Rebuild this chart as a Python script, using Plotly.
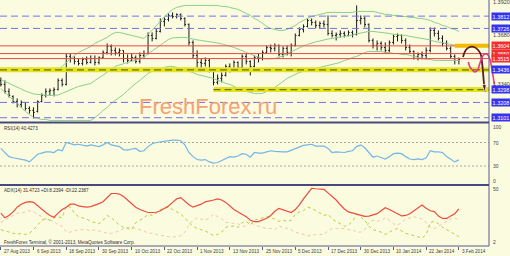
import plotly.graph_objects as go

W, H = 510, 256
BG = "#FBFBE0"

# ---------------- data ----------------
DATE_LABELS = ["27 Aug 2013", "6 Sep 2013", "18 Sep 2013", "30 Sep 2013", "10 Oct 2013",
               "22 Oct 2013", "1 Nov 2013", "13 Nov 2013", "25 Nov 2013", "5 Dec 2013",
               "17 Dec 2013", "30 Dec 2013", "10 Jan 2014", "22 Jan 2014", "3 Feb 2014"]
DATE_BARS = [0, 8, 16, 24, 32, 40, 48, 56, 64, 72, 80, 88, 96, 104, 112]

OPEN = [1.3362, 1.3334, 1.3285, 1.3250, 1.3215, 1.3194, 1.3208, 1.3166, 1.3152, 1.3145,
        1.3215, 1.3257, 1.3285, 1.3292, 1.3299, 1.3362, 1.3334, 1.3530, 1.3516, 1.3495,
        1.3481, 1.3509, 1.3488, 1.3516, 1.3488, 1.3523, 1.3558, 1.3600, 1.3572, 1.3558,
        1.3572, 1.3516, 1.3502, 1.3523, 1.3495, 1.3537, 1.3551, 1.3677, 1.3656, 1.3705,
        1.3775, 1.3789, 1.3817, 1.3810, 1.3824, 1.3796, 1.3754, 1.3628, 1.3537, 1.3488,
        1.3481, 1.3502, 1.3432, 1.3348, 1.3376, 1.3397, 1.3460, 1.3446, 1.3488, 1.3453,
        1.3530, 1.3495, 1.3460, 1.3523, 1.3516, 1.3558, 1.3593, 1.3586, 1.3607, 1.3544,
        1.3586, 1.3558, 1.3607, 1.3677, 1.3719, 1.3740, 1.3782, 1.3768, 1.3747, 1.3761,
        1.3754, 1.3691, 1.3677, 1.3684, 1.3691, 1.3677, 1.3698, 1.3684, 1.3782, 1.3796,
        1.3754, 1.3642, 1.3607, 1.3621, 1.3593, 1.3572, 1.3628, 1.3670, 1.3677, 1.3642,
        1.3593, 1.3565, 1.3530, 1.3544, 1.3537, 1.3572, 1.3712, 1.3691, 1.3656, 1.3621,
        1.3586, 1.3530, 1.3502]
HIGH = [1.3383, 1.3362, 1.3306, 1.3257, 1.3236, 1.3222, 1.3208, 1.3180, 1.3173, 1.3222,
        1.3271, 1.3306, 1.3306, 1.3313, 1.3376, 1.3376, 1.3551, 1.3551, 1.3530, 1.3516,
        1.3523, 1.3530, 1.3537, 1.3537, 1.3530, 1.3572, 1.3621, 1.3614, 1.3593, 1.3586,
        1.3572, 1.3544, 1.3551, 1.3537, 1.3558, 1.3572, 1.3698, 1.3698, 1.3726, 1.3796,
        1.3803, 1.3831, 1.3838, 1.3831, 1.3831, 1.3803, 1.3761, 1.3642, 1.3572, 1.3516,
        1.3523, 1.3516, 1.3439, 1.3404, 1.3418, 1.3474, 1.3481, 1.3502, 1.3495, 1.3544,
        1.3551, 1.3502, 1.3537, 1.3551, 1.3572, 1.3607, 1.3614, 1.3621, 1.3614, 1.3600,
        1.3607, 1.3621, 1.3691, 1.3733, 1.3754, 1.3796, 1.3796, 1.3782, 1.3775, 1.3782,
        1.3817, 1.3712, 1.3698, 1.3712, 1.3705, 1.3712, 1.3712, 1.3887, 1.3817, 1.3810,
        1.3761, 1.3656, 1.3642, 1.3635, 1.3628, 1.3642, 1.3684, 1.3691, 1.3684, 1.3656,
        1.3614, 1.3572, 1.3558, 1.3565, 1.3593, 1.3733, 1.3733, 1.3712, 1.3677, 1.3642,
        1.3600, 1.3544, 1.3523]
LOW = [1.3320, 1.3271, 1.3243, 1.3201, 1.3173, 1.3173, 1.3152, 1.3131, 1.3096, 1.3138,
       1.3208, 1.3243, 1.3257, 1.3250, 1.3292, 1.3320, 1.3327, 1.3488, 1.3474, 1.3467,
       1.3467, 1.3474, 1.3481, 1.3467, 1.3474, 1.3516, 1.3544, 1.3537, 1.3537, 1.3530,
       1.3488, 1.3481, 1.3495, 1.3481, 1.3481, 1.3516, 1.3544, 1.3635, 1.3649, 1.3698,
       1.3740, 1.3775, 1.3796, 1.3796, 1.3782, 1.3740, 1.3607, 1.3516, 1.3453, 1.3446,
       1.3460, 1.3418, 1.3327, 1.3334, 1.3348, 1.3390, 1.3418, 1.3432, 1.3425, 1.3446,
       1.3474, 1.3397, 1.3453, 1.3488, 1.3502, 1.3551, 1.3558, 1.3565, 1.3530, 1.3523,
       1.3537, 1.3530, 1.3600, 1.3670, 1.3698, 1.3733, 1.3747, 1.3726, 1.3726, 1.3733,
       1.3677, 1.3663, 1.3642, 1.3663, 1.3663, 1.3670, 1.3663, 1.3677, 1.3754, 1.3733,
       1.3628, 1.3586, 1.3572, 1.3572, 1.3551, 1.3558, 1.3614, 1.3635, 1.3621, 1.3572,
       1.3551, 1.3509, 1.3502, 1.3509, 1.3516, 1.3558, 1.3670, 1.3642, 1.3600, 1.3572,
       1.3516, 1.3474, 1.3474]
CLOSE = [1.3334, 1.3285, 1.3257, 1.3215, 1.3194, 1.3208, 1.3166, 1.3152, 1.3138, 1.3215,
         1.3257, 1.3285, 1.3292, 1.3299, 1.3362, 1.3334, 1.3530, 1.3516, 1.3495, 1.3481,
         1.3509, 1.3488, 1.3516, 1.3488, 1.3523, 1.3558, 1.3600, 1.3572, 1.3558, 1.3572,
         1.3516, 1.3502, 1.3523, 1.3495, 1.3537, 1.3551, 1.3677, 1.3656, 1.3705, 1.3775,
         1.3789, 1.3817, 1.3810, 1.3824, 1.3796, 1.3754, 1.3628, 1.3537, 1.3488, 1.3481,
         1.3502, 1.3432, 1.3348, 1.3376, 1.3397, 1.3460, 1.3446, 1.3488, 1.3453, 1.3530,
         1.3495, 1.3460, 1.3523, 1.3516, 1.3558, 1.3593, 1.3586, 1.3607, 1.3544, 1.3586,
         1.3558, 1.3607, 1.3677, 1.3719, 1.3740, 1.3782, 1.3768, 1.3747, 1.3761, 1.3754,
         1.3691, 1.3677, 1.3684, 1.3691, 1.3677, 1.3698, 1.3684, 1.3782, 1.3796, 1.3754,
         1.3642, 1.3607, 1.3621, 1.3593, 1.3572, 1.3628, 1.3670, 1.3677, 1.3642, 1.3593,
         1.3565, 1.3530, 1.3544, 1.3537, 1.3572, 1.3712, 1.3691, 1.3656, 1.3621, 1.3586,
         1.3530, 1.3502, 1.3509]

BB_UPPER = [1.3432] * 14 + [
    1.3439, 1.3460, 1.3488, 1.3516, 1.3537, 1.3558, 1.3572, 1.3586, 1.3600, 1.3621,
    1.3635, 1.3649, 1.3663, 1.3684, 1.3698, 1.3698, 1.3691, 1.3684, 1.3677, 1.3670,
    1.3663, 1.3656, 1.3684, 1.3712, 1.3740, 1.3775, 1.3810, 1.3838, 1.3859, 1.3873,
    1.3880, 1.3887, 1.3887, 1.3887, 1.3887, 1.3887, 1.3887, 1.3887, 1.3887, 1.3887,
    1.3880, 1.3880, 1.3873, 1.3866, 1.3859, 1.3845, 1.3831, 1.3817, 1.3796, 1.3782,
    1.3761, 1.3740, 1.3726, 1.3719, 1.3712, 1.3712, 1.3719, 1.3733, 1.3747, 1.3768,
    1.3782, 1.3796, 1.3810, 1.3817, 1.3824, 1.3831] + [1.3838] * 7 + [1.3845] * 5 + [
    1.3838, 1.3831, 1.3824, 1.3824, 1.3817, 1.3817, 1.3810, 1.3810, 1.3803, 1.3803,
    1.3796, 1.3796, 1.3789, 1.3782, 1.3768, 1.3761, 1.3747, 1.3740, 1.3726, 1.3719,
    1.3705]
BB_MIDDLE = [1.3369, 1.3355, 1.3341, 1.3327, 1.3313, 1.3299, 1.3288, 1.3278, 1.3267, 1.3264,
             1.3260, 1.3260, 1.3257, 1.3257, 1.3260, 1.3271, 1.3285, 1.3299, 1.3309, 1.3320,
             1.3327, 1.3334, 1.3341, 1.3362, 1.3380, 1.3400, 1.3418, 1.3442, 1.3460, 1.3470,
             1.3478, 1.3488, 1.3498, 1.3506, 1.3512, 1.3523, 1.3548, 1.3568, 1.3586, 1.3607,
             1.3632, 1.3649, 1.3660, 1.3663, 1.3663, 1.3663, 1.3656, 1.3652, 1.3646, 1.3642,
             1.3638, 1.3635, 1.3632, 1.3624, 1.3618, 1.3610, 1.3604, 1.3593, 1.3582, 1.3568,
             1.3558, 1.3548, 1.3534, 1.3526, 1.3516, 1.3512, 1.3512, 1.3516, 1.3523, 1.3534,
             1.3548, 1.3562, 1.3576, 1.3593, 1.3604, 1.3614, 1.3624, 1.3632, 1.3638, 1.3646,
             1.3652, 1.3656, 1.3660, 1.3663, 1.3670, 1.3674, 1.3680, 1.3688, 1.3694, 1.3702,
             1.3705, 1.3705, 1.3702, 1.3698, 1.3691, 1.3691, 1.3684, 1.3684, 1.3677, 1.3677,
             1.3670, 1.3666, 1.3660, 1.3656, 1.3649, 1.3646, 1.3635, 1.3632, 1.3624, 1.3621,
             1.3614, 1.3610, 1.3604]
BB_LOWER = [1.3306, 1.3278, 1.3250, 1.3222, 1.3194, 1.3166, 1.3145, 1.3124, 1.3103, 1.3096,
            1.3089, 1.3089] + [1.3082] * 11 + [
    1.3103, 1.3124, 1.3152, 1.3173, 1.3201, 1.3222, 1.3243, 1.3264, 1.3292, 1.3320,
    1.3341, 1.3362, 1.3390, 1.3411, 1.3425, 1.3432, 1.3439, 1.3453, 1.3460, 1.3460,
    1.3453, 1.3446, 1.3439, 1.3425, 1.3418, 1.3404, 1.3397, 1.3390, 1.3383, 1.3376,
    1.3362, 1.3355, 1.3341, 1.3334, 1.3320, 1.3306, 1.3292, 1.3285, 1.3278, 1.3271,
    1.3271, 1.3271, 1.3285, 1.3299, 1.3313, 1.3334, 1.3355, 1.3376, 1.3390, 1.3404,
    1.3418, 1.3425, 1.3432, 1.3439, 1.3446, 1.3453, 1.3460, 1.3467, 1.3474, 1.3481,
    1.3488, 1.3502, 1.3509, 1.3523, 1.3530, 1.3544, 1.3558, 1.3565, 1.3565, 1.3565,
    1.3565, 1.3558, 1.3558, 1.3551, 1.3551, 1.3544, 1.3544, 1.3537, 1.3530, 1.3523,
    1.3516, 1.3509, 1.3509] + [1.3502] * 7

RSI = [60, 53, 46, 44, 43, 42, 40, 37, 44, 50,
       52, 54, 54, 53, 58, 56, 70, 68, 66, 67,
       66, 64, 66, 64, 63, 66, 70, 66, 64, 63,
       58, 57, 59, 60, 55, 56, 63, 68, 70, 71,
       73, 74, 74, 74, 73, 66, 53, 46, 41, 40,
       41, 37, 35, 36, 39, 43, 46, 45, 47, 51,
       50, 45, 53, 52, 52, 54, 56, 55, 54, 54,
       54, 57, 60, 62, 65, 66, 67, 64, 64, 64,
       60, 53, 54, 54, 53, 55, 56, 63, 66, 61,
       52, 45, 47, 45, 42, 46, 51, 52, 51, 46,
       42, 41, 42, 41, 44, 56, 54, 54, 53, 46,
       41, 37, 40.43]
ADX = [28, 24, 26, 29, 33, 35.5, 37, 37.6, 37, 34,
       31, 28.5, 26, 24.5, 28, 31, 33, 35.5, 35.5, 34,
       33.5, 33, 33.5, 34.5, 36, 37.6, 41, 44.5, 44.5, 44,
       42, 39, 36, 33, 31, 30, 28.5, 28.5, 28.7, 30,
       32, 34, 37, 40, 41, 38, 35, 33, 34, 35.5,
       37.5, 38, 39, 40, 39, 37, 34, 31, 29, 27,
       25, 22, 20.8, 20.8, 22, 23.6, 26, 29.5, 32, 31,
       30, 28.5, 31, 35, 40, 45, 48.9, 48.5, 48.3, 48,
       45, 42, 39, 35, 31.5, 29, 28, 26.8, 26, 25.2,
       25.5, 26.4, 27.5, 30, 32.5, 31, 29.5, 27.5, 25.6, 26,
       27.5, 30, 33, 34.8, 32, 30, 29.2, 25.5, 23.5, 23.5,
       25.5, 27.5, 31.47]
PLUS_DI = [14, 13, 12, 11, 10, 11, 10, 11, 14, 18,
           22, 23, 22, 24, 25, 24, 34, 33, 28, 25,
           24, 23, 21, 20, 19, 22, 26, 24, 21, 18,
           16, 15, 14, 20, 22, 24, 27, 26, 28, 31,
           32, 33, 31, 29, 27, 24, 20, 17, 15, 14,
           13, 11, 9, 10, 12, 16, 17, 17, 16, 20,
           21, 18, 22, 23, 24, 25, 24, 23, 21, 22,
           21, 22, 27, 29, 30, 33, 32, 30, 28, 26,
           27, 23, 21, 19, 17, 18, 21, 27, 25, 22,
           17, 14, 13, 12, 10, 12, 14, 15, 13, 11,
           10, 9, 8, 7, 10, 20, 21, 19, 16, 14,
           12, 10, 8.24]
MINUS_DI = [20, 22, 24, 26, 28, 28, 29, 30, 29, 27,
            25, 23, 22, 21, 18, 17, 12, 12, 13, 14,
            14, 14, 13, 14, 13, 12, 11, 11, 12, 13,
            15, 16, 16, 15, 14, 13, 11, 11, 10, 9,
            9, 8, 8, 8, 9, 12, 18, 22, 24, 23,
            22, 24, 27, 25, 23, 20, 20, 19, 19, 17,
            17, 21, 18, 17, 16, 15, 15, 14, 17, 16,
            15, 14, 12, 11, 10, 9, 9, 10, 10, 10,
            13, 15, 15, 15, 15, 14, 14, 12, 12, 14,
            20, 22, 21, 22, 24, 22, 19, 18, 20, 23,
            24, 25, 24, 23, 20, 16, 15, 17, 19, 21,
            23, 24, 22.24]

BLUE_LEVELS = [1.3812, 1.3726, 1.3208, 1.3101]
RED_LEVELS = [1.3604, 1.3550, 1.3515]
ZONE_LEVELS = [1.3436, 1.3298]
ZONE_START_BARS = [0, 52]
SHORT_ZONE_LEVEL = 1.3604
SHORT_ZONE_START = 111
GRAY_PRICE_TICKS = [1.3920, 1.3680, 1.3340]
RSI_LEVELS = [70, 30]
RSI_TICKS = [100, 70, 30, 0]
ADX_TICKS = [50, 2]

RSI_TITLE = "RSI(14) 40.4273"
ADX_TITLE = "ADX(14) 31.4723 +DI:8.2394 -DI:22.2387"
COPYRIGHT = "FreshForex Terminal, © 2001-2013, MetaQuotes Software Corp."
WATERMARK = "FreshForex.ru"

# hand-drawn forecast arrows (bar index, price)
BROWN_X = [113.0, 113.7, 114.7, 115.7, 116.7, 117.4, 117.65, 117.9, 118.1, 118.4]
BROWN_Y = [1.3526, 1.3575, 1.3596, 1.3596, 1.3575, 1.3540, 1.3491, 1.3421, 1.3351, 1.3281]
MAGENTA_X = [114.3, 114.7, 115.3, 115.9, 116.6, 117.0, 117.6, 118.0, 118.8, 119.4, 120.0, 120.4, 120.8, 121.1]
MAGENTA_Y = [1.3491, 1.3456, 1.3435, 1.3421, 1.3435, 1.3470, 1.3519, 1.3540, 1.3547, 1.3526,
             1.3456, 1.3386, 1.3309, 1.3281]

# ---------------- geometry ----------------
N = min(len(OPEN), len(HIGH), len(LOW), len(CLOSE), len(BB_UPPER), len(BB_MIDDLE),
        len(BB_LOWER), len(RSI), len(ADX), len(PLUS_DI), len(MINUS_DI))
BARS = list(range(N))

X_RANGE = [-0.2, 124.5]
AXIS_PX = 489
AXIS_X = X_RANGE[0] + AXIS_PX / W * (X_RANGE[1] - X_RANGE[0])
PRICE_RANGE = [1.3078, 1.3925]
RSI_RANGE = [-2.3, 103.2]
ADX_RANGE = [0.3, 50.8]


def py(px):
    return 1 - px / H


MAIN_DOM = [py(121), 1]
RSI_DOM = [py(185), py(123)]
ADX_DOM = [py(246), py(186)]

LABEL_FONT = "Liberation Sans, Arial, sans-serif"
SMALL = 4.6
BB_COLOR = "#8CCF8C"

fig = go.Figure()


def hline(level, x0, color, width, dash="solid", axis=("x", "y")):
    fig.add_trace(go.Scatter(x=[x0, AXIS_X], y=[level, level], mode="lines",
                             line=dict(color=color, width=width, dash=dash),
                             xaxis=axis[0], yaxis=axis[1], hoverinfo="skip"))


# Bollinger bands
for band in (BB_UPPER[:N], BB_MIDDLE[:N], BB_LOWER[:N]):
    fig.add_trace(go.Scatter(x=BARS, y=band, mode="lines",
                             line=dict(color=BB_COLOR, width=1), hoverinfo="skip"))

# level lines
for lv in BLUE_LEVELS:
    hline(lv, X_RANGE[0], "#7272F0", 1, "7px,4px")
for lv in RED_LEVELS:
    hline(lv, X_RANGE[0], "#F04848", 1)
for lv, st in zip(ZONE_LEVELS, ZONE_START_BARS):
    x0 = X_RANGE[0] if st == 0 else st
    hline(lv, x0, "#E4E41C", 5)
    hline(lv, x0, "#6E6E1E", 1.2, "7px,4px")
hline(SHORT_ZONE_LEVEL, SHORT_ZONE_START, "#F3B800", 4)

# price bars
fig.add_trace(go.Ohlc(x=BARS, open=OPEN[:N], high=HIGH[:N], low=LOW[:N], close=CLOSE[:N],
                      increasing=dict(line=dict(color="#1A1A1A", width=1)),
                      decreasing=dict(line=dict(color="#1A1A1A", width=1)),
                      tickwidth=0.3, hoverinfo="skip"))

# forecast arrows
for xs, ys, col, wd in ((BROWN_X, BROWN_Y, "#5A1C1C", 1.8), (MAGENTA_X, MAGENTA_Y, "#E8388E", 1.6)):
    fig.add_trace(go.Scatter(x=xs, y=ys, mode="lines+markers",
                             line=dict(color=col, width=wd, shape="spline"),
                             marker=dict(symbol="arrow", angleref="previous", color=col,
                                         size=[0] * (len(xs) - 1) + [8]),
                             hoverinfo="skip"))

# RSI panel
for lv in RSI_LEVELS:
    hline(lv, X_RANGE[0], "#A8A8A8", 1, "2px,2px", ("x2", "y2"))
fig.add_trace(go.Scatter(x=BARS, y=RSI[:N], mode="lines", line=dict(color="#74B6E6", width=1.2),
                         xaxis="x2", yaxis="y2", hoverinfo="skip"))

# ADX panel
fig.add_trace(go.Scatter(x=BARS, y=MINUS_DI[:N], mode="lines",
                         line=dict(color="#F2C6A8", width=1, dash="dot"),
                         xaxis="x3", yaxis="y3", hoverinfo="skip"))
fig.add_trace(go.Scatter(x=BARS, y=PLUS_DI[:N], mode="lines",
                         line=dict(color="#B4CF3A", width=1, dash="dot"),
                         xaxis="x3", yaxis="y3", hoverinfo="skip"))
fig.add_trace(go.Scatter(x=BARS, y=ADX[:N], mode="lines", line=dict(color="#F04A3C", width=1.2),
                         xaxis="x3", yaxis="y3", hoverinfo="skip"))

# ---------------- annotations ----------------
ann = []
LX = 491 / W


def lab(text, y, yref, bg=None, color="#444444", size=5.5, yshift=0):
    d = dict(text=text, x=LX, xref="paper", y=y, yref=yref, xanchor="left", yanchor="middle",
             showarrow=False, yshift=yshift, font=dict(family=LABEL_FONT, size=size, color=color))
    if bg:
        d.update(bgcolor=bg, font=dict(family=LABEL_FONT, size=size, color="#FFFFFF"), borderpad=0.6)
    ann.append(d)


for v in GRAY_PRICE_TICKS:
    lab(f"{v:.4f}", v, "y", yshift=-1.5 if v == GRAY_PRICE_TICKS[0] else 0)
for v in BLUE_LEVELS + ZONE_LEVELS:
    lab(f"{v:.4f}", v, "y", bg="#3434EE")
for v in RED_LEVELS:
    lab(f"{v:.4f}", v, "y", bg="#EE3030")
RSI_SHIFT = {100: -2, 70: 0, 30: 0, 0: 2.5}
for v in RSI_TICKS:
    lab(str(v), v, "y2", size=5, yshift=RSI_SHIFT[v])
ADX_SHIFT = {50: -2, 2: 1.8}
for v in ADX_TICKS:
    lab(str(v), v, "y3", size=5, yshift=ADX_SHIFT[v])

for b, t in zip(DATE_BARS, DATE_LABELS):
    ann.append(dict(text=t, x=b, xref="x3", y=py(251), yref="paper", xanchor="left",
                    yanchor="middle", xshift=1, showarrow=False,
                    font=dict(family=LABEL_FONT, size=SMALL, color="#404040")))

for t, ypx in ((RSI_TITLE, 128.5), (ADX_TITLE, 190), (COPYRIGHT, 241.5)):
    ann.append(dict(text=t, x=2 / W, xref="paper", y=py(ypx), yref="paper", xanchor="left",
                    yanchor="middle", showarrow=False,
                    font=dict(family=LABEL_FONT, size=SMALL, color="#303030")))

ann.append(dict(text=WATERMARK, x=137 / W, xref="paper", y=py(106), yref="paper",
                xanchor="left", yanchor="middle", showarrow=False,
                font=dict(family=LABEL_FONT, size=22, color="#F5A275")))

# ---------------- frame shapes ----------------
FRAME = "#5A5A8C"
shapes = [
    dict(type="line", xref="paper", yref="paper", x0=AXIS_PX / W, x1=AXIS_PX / W,
         y0=py(246), y1=1, line=dict(color=FRAME, width=1)),
    dict(type="line", xref="paper", yref="paper", x0=0, x1=AXIS_PX / W,
         y0=py(122.5), y1=py(122.5), line=dict(color="#48487E", width=2)),
    dict(type="line", xref="paper", yref="paper", x0=0, x1=AXIS_PX / W,
         y0=py(185), y1=py(185), line=dict(color="#48487E", width=2)),
    dict(type="line", xref="paper", yref="paper", x0=0, x1=AXIS_PX / W,
         y0=py(246), y1=py(246), line=dict(color=FRAME, width=1)),
]

ax_common = dict(showgrid=False, zeroline=False, showline=False, fixedrange=True)
fig.update_layout(
    width=W, height=H, margin=dict(l=0, r=0, t=0, b=0),
    paper_bgcolor=BG, plot_bgcolor=BG, showlegend=False, hovermode=False,
    xaxis=dict(range=X_RANGE, domain=[0, 1], anchor="y", showticklabels=False,
               rangeslider=dict(visible=False), **ax_common),
    xaxis2=dict(range=X_RANGE, domain=[0, 1], anchor="y2", showticklabels=False, **ax_common),
    xaxis3=dict(range=X_RANGE, domain=[0, 1], anchor="y3", showticklabels=False,
                ticks="outside", ticklen=3, tickcolor=FRAME, tickwidth=1,
                tickvals=DATE_BARS, **ax_common),
    yaxis=dict(range=PRICE_RANGE, domain=MAIN_DOM, anchor="x", showticklabels=False, **ax_common),
    yaxis2=dict(range=RSI_RANGE, domain=RSI_DOM, anchor="x2", showticklabels=False, **ax_common),
    yaxis3=dict(range=ADX_RANGE, domain=ADX_DOM, anchor="x3", showticklabels=False, **ax_common),
    annotations=ann, shapes=shapes,
)

fig.write_html("out.html")
